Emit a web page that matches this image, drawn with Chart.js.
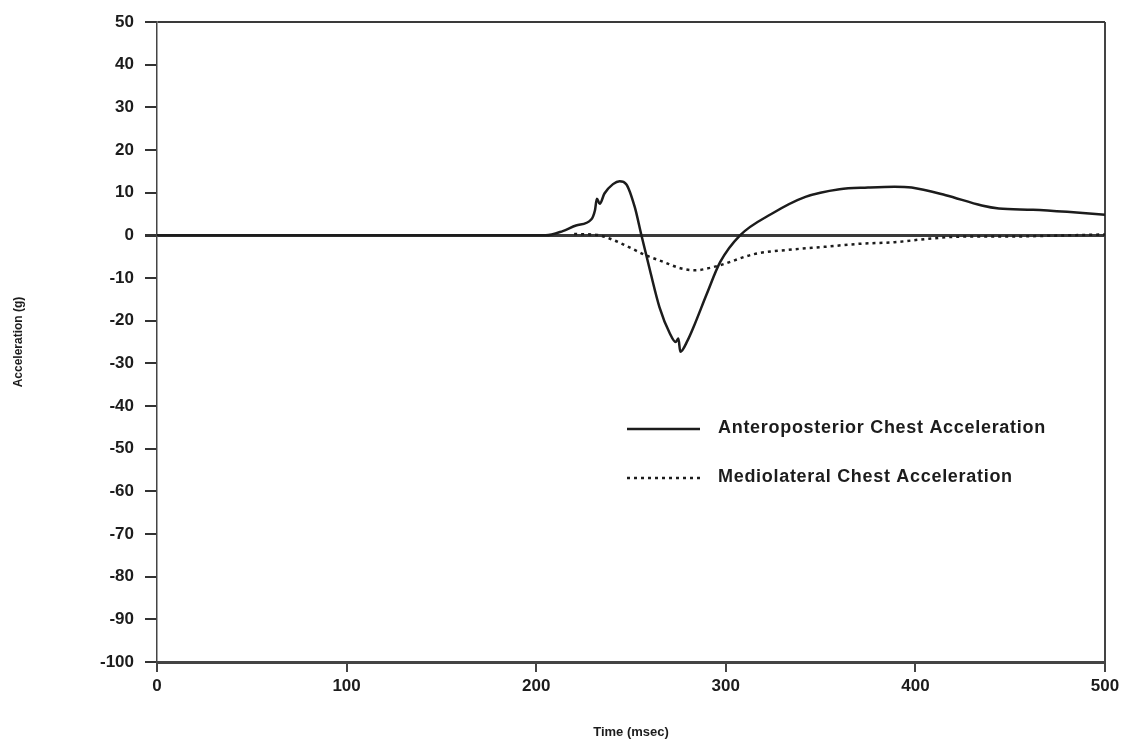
<!DOCTYPE html>
<html>
<head>
<meta charset="utf-8">
<script src="https://cdn.jsdelivr.net/npm/chart.js@4.4.1/dist/chart.umd.min.js"></script>
<style>
    html, body { margin: 0; padding: 0; background: #ffffff; }
    #cadre { width: 1126px; height: 742px; }
</style>
</head>
<body>
<div id="cadre"><canvas id="acceleration" width="1126" height="742"></canvas></div>
<script>

// Anteroposterior (solid line)
const apTemps = [0, 205, 214, 221, 229, 231, 232, 233.5, 236, 240.5, 244, 247.5, 252, 255.5, 260, 265, 270.5, 273.5, 275, 276, 280, 283, 290, 297, 307.5, 324, 342, 360, 375, 389, 398, 416, 435, 444, 462, 480, 500];
const apValeurs = [0, 0, 1.0, 2.3, 3.7, 5.9, 8.6, 7.4, 9.8, 12.0, 12.7, 12.0, 6.6, 0, -8.2, -16.8, -23, -25, -24.2, -27.3, -24.5, -21.5, -13.7, -6.3, 0, 5.0, 9.0, 10.8, 11.2, 11.4, 11.2, 9.4, 7.0, 6.3, 6.0, 5.5, 4.8];

// Mediolateral (dotted line), hidden under the zero line before ~220 msec
const mlTemps = [220, 232, 239, 249.5, 258, 267, 276, 284, 290, 297, 315, 333, 352, 370, 389, 407, 425, 444, 462, 480, 500];
const mlValeurs = [0.3, 0.1, -0.8, -2.9, -4.7, -6.2, -7.7, -8.2, -7.8, -7.0, -4.4, -3.4, -2.7, -2.0, -1.6, -0.8, -0.3, -0.3, -0.2, 0, 0.2];

const ticksX = [0, 100, 200, 300, 400, 500];
const ticksY = [50, 40, 30, 20, 10, 0, -10, -20, -30, -40, -50, -60, -70, -80, -90, -100];

const noir = '#1c1c1c';
const police = "'Liberation Sans', Arial, sans-serif";

function points(temps, valeurs) {
    return temps.map((t, i) => ({ x: t, y: valeurs[i] }));
}

// legend drawn inside the plot area
const legendeInterne = {
    id: 'legendeInterne',
    afterDatasetsDraw(chart) {
        const ctx = chart.ctx;
        const lignes = [
            { y: 429, dash: [] },
            { y: 478, dash: [3, 4] }
        ];
        ctx.save();
        ctx.font = `bold 18px ${police}`;
        ctx.letterSpacing = '0.7px';
        ctx.fillStyle = noir;
        ctx.textBaseline = 'middle';
        chart.data.datasets.forEach((ds, i) => {
            const l = lignes[i];
            ctx.beginPath();
            ctx.setLineDash(l.dash);
            ctx.lineWidth = 2.5;
            ctx.strokeStyle = noir;
            ctx.moveTo(627, l.y);
            ctx.lineTo(700, l.y);
            ctx.stroke();
            ctx.fillText(ds.label, 718, l.y - 1);
        });
        ctx.restore();
    }
};

new Chart(document.querySelector('#acceleration'), {

    type: 'line',
    data: {
        datasets: [
            {
                label: 'Anteroposterior Chest Acceleration',
                data: points(apTemps, apValeurs),
                borderColor: noir,
                borderWidth: 2.5,
                pointRadius: 0,
                cubicInterpolationMode: 'monotone'
            },
            {
                label: 'Mediolateral Chest Acceleration',
                data: points(mlTemps, mlValeurs),
                borderColor: noir,
                borderWidth: 2.5,
                borderDash: [3, 4],
                pointRadius: 0,
                cubicInterpolationMode: 'monotone'
            }
        ]
    },
    options: {
        responsive: false,
        animation: false,
        layout: {
            padding: { top: 22, right: 21, left: 0, bottom: 0 }
        },
        plugins: {
            legend: { display: false },
            tooltip: { enabled: false }
        },
        scales: {
            x: {
                type: 'linear',
                min: 0,
                max: 500,
                afterFit: (scale) => { scale.height = 80; },
                afterBuildTicks: (scale) => { scale.ticks = ticksX.map(v => ({ value: v })); },
                ticks: {
                    color: noir,
                    font: { family: police, size: 17, weight: 'bold' },
                    padding: 4,
                    maxRotation: 0
                },
                grid: {
                    color: (c) => c.tick && c.tick.value === 500 ? '#444' : 'transparent',
                    lineWidth: 2,
                    tickColor: '#444',
                    tickLength: 10
                },
                border: { display: true, color: '#444', width: 3 },
                title: {
                    display: true,
                    text: 'Time (msec)',
                    color: noir,
                    font: { family: police, size: 13, weight: 'bold' },
                    padding: { top: 0, bottom: 2 }
                }
            },
            y: {
                min: -100,
                max: 50,
                afterFit: (scale) => { scale.width = 157; },
                afterBuildTicks: (scale) => { scale.ticks = ticksY.map(v => ({ value: v })); },
                ticks: {
                    color: noir,
                    font: { family: police, size: 17, weight: 'bold' },
                    padding: 11
                },
                grid: {
                    color: (c) => c.tick && (c.tick.value === 0 || c.tick.value === 50) ? '#3a3a3a' : 'transparent',
                    lineWidth: (c) => c.tick && c.tick.value === 0 ? 3 : 2,
                    tickColor: '#333',
                    tickLength: 12
                },
                border: { display: true, color: '#444', width: 1.5 },
                title: {
                    display: true,
                    text: 'Acceleration (g)',
                    color: noir,
                    font: { family: police, size: 12, weight: 'bold' },
                    padding: { top: 11, bottom: 0 }
                }
            }
        }
    },
    plugins: [legendeInterne]

});

</script>
</body>
</html>
